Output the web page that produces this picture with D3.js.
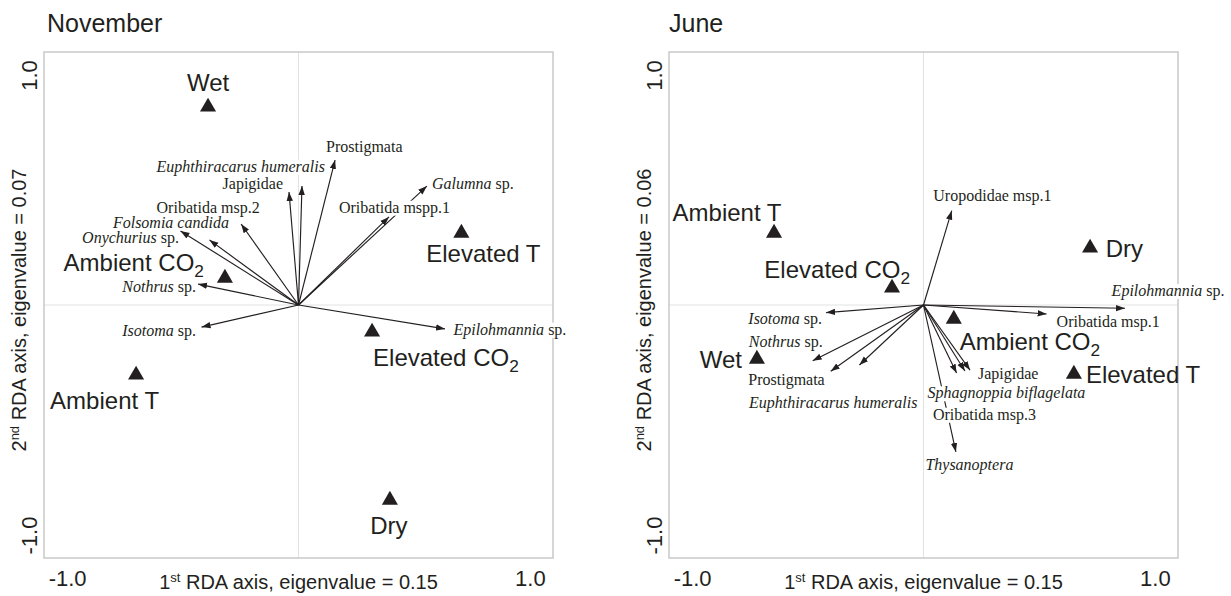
<!DOCTYPE html>
<html>
<head>
<meta charset="utf-8">
<script src="https://cdn.jsdelivr.net/npm/d3@7"></script>
<style>
  body { margin: 0; background: #fff; }
  svg { display: block; }
</style>
</head>
<body>
<svg id="svg1" width="1231" height="596"></svg>
<script>
// November : species arrows (*..* = italic) and treatment centroids (_2 = subscript)
var novSpecies = ["Prostigmata", "*Euphthiracarus humeralis*", "Japigidae", "Oribatida msp.2",
                  "*Folsomia candida*", "*Onychurius* sp.", "*Nothrus* sp.", "*Isotoma* sp.",
                  "*Epilohmannia* sp.", "Oribatida mspp.1", "*Galumna* sp."];
var novSpeciesX = [0.158, 0.015, -0.041, -0.248, -0.385, -0.510, -0.434, -0.419, 0.633, 0.391, 0.555];
var novSpeciesY = [0.630, 0.517, 0.491, 0.352, 0.283, 0.322, 0.091, -0.096, -0.104, 0.383, 0.517];
var novTreat = ["Wet", "Elevated T", "Ambient CO_2", "Elevated CO_2", "Ambient T", "Dry"];
var novTreatX = [-0.391, 0.704, -0.318, 0.318, -0.702, 0.395];
var novTreatY = [0.861, 0.313, 0.117, -0.117, -0.304, -0.848];

// June
var junSpecies = ["Uropodidae msp.1", "*Epilohmannia* sp.", "Oribatida msp.1", "*Isotoma* sp.",
                  "*Nothrus* sp.", "Prostigmata", "*Euphthiracarus humeralis*", "*Sphagnoppia biflagelata*",
                  "Japigidae", "Oribatida msp.3", "*Thysanoptera*"];
var junSpeciesX = [0.122, 0.871, 0.532, -0.421, -0.479, -0.401, -0.277, 0.143, 0.201, 0.179, 0.140];
var junSpeciesY = [0.410, -0.014, -0.039, -0.033, -0.242, -0.288, -0.261, -0.296, -0.283, -0.287, -0.639];
var junTreat = ["Ambient T", "Elevated CO_2", "Dry", "Ambient CO_2", "Wet", "Elevated T"];
var junTreatX = [-0.646, -0.136, 0.720, 0.131, -0.720, 0.650];
var junTreatY = [0.313, 0.074, 0.248, -0.061, -0.235, -0.300];

var axisTicks = [-1, 1];
var eigen1 = ["0.15", "0.15"];
var eigen2 = ["0.07", "0.06"];
var months = ["November", "June"];

// label placement (anchor, dx, dy in px from the point) - layout only
var novSpeciesLab = [["start",-9,-14],["end",23,-20],["end",-6,-9],["middle",-33,-17],["end",19.5,-18],
                     ["end",-1.5,6],["end",-2,2],["end",-5.6,3],["start",8.5,0],["start",-50,-10],["start",5,-3]];
var novTreatLab = [["middle",0,-25],["middle",22,20],["end",-21,-16],["start",1,25],["middle",-31.5,25],["middle",-1,25]];
var junSpeciesLab = [["start",-18.4,-15.7],["start",-13.4,-18],["start",10,7],["end",-4,5.5],["end",10,-19],
                     ["end",-6,8],["end",58,37],["start",-29,19.5],["start",8,3],["start",-32,43],["start",-30.5,12]];
var junTreatLab = [["middle",-47,-21],["end",18,-19],["start",15.7,0],["start",6,22.5],["end",-15,0],["start",12,0]];

var ink = "#231f20";
var sans = "'Liberation Sans', Arial, sans-serif";
var serif = "'Liberation Serif', 'Times New Roman', serif";

var svg = d3.select("#svg1");
var defs = svg.append("defs");
defs.append("marker").attr("id", "arr")
    .attr("markerUnits", "userSpaceOnUse")
    .attr("viewBox", "0 -4 10 8").attr("refX", 9).attr("refY", 0)
    .attr("markerWidth", 10).attr("markerHeight", 8).attr("orient", "auto")
    .append("path").attr("d", "M0,-3.2L9,0L0,3.2Z").attr("fill", ink);

function richText(g, str, px, py, anchor, fs, family) {
    var t = g.append("text").attr("x", px).attr("y", py + 0.36 * fs)
        .attr("text-anchor", anchor).attr("font-size", fs)
        .attr("font-family", family).attr("fill", ink);
    str.split(/(\*[^*]+\*|_\d)/).filter(Boolean).forEach(function(p) {
        if (p[0] === "*") t.append("tspan").attr("font-style", "italic").text(p.slice(1, -1));
        else if (p[0] === "_") t.append("tspan").attr("font-size", fs * 0.72).attr("dy", fs * 0.26).text(p.slice(1));
        else t.append("tspan").text(p);
    });
    return t;
}

function drawPanel(i, left, sp, spX, spY, spLab, tr, trX, trY, trLab) {
    var w = 509, top = 52, bottom = 558;
    var x = d3.scaleLinear().domain([-1.1, 1.1]).range([left, left + w]);
    var y = d3.scaleLinear().domain([-1.1, 1.1]).range([bottom, top]);
    var g = svg.append("g");

    // title
    g.append("text").attr("x", left + (i === 0 ? 3 : 0)).attr("y", 32)
        .attr("font-size", 25).attr("font-family", sans).attr("fill", ink).text(months[i]);

    // zero lines and frame
    g.append("line").attr("x1", x(0)).attr("x2", x(0)).attr("y1", top).attr("y2", bottom)
        .attr("stroke", "#e2e2e2").attr("stroke-width", 1);
    g.append("line").attr("x1", left).attr("x2", left + w).attr("y1", y(0)).attr("y2", y(0))
        .attr("stroke", "#e2e2e2").attr("stroke-width", 1);
    g.append("rect").attr("x", left).attr("y", top).attr("width", w).attr("height", bottom - top)
        .attr("fill", "none").attr("stroke", "#c9c9c9").attr("stroke-width", 1.5);

    // axes (labels only)
    var fmt = function(d) { return d.toFixed(1); };
    var gx = g.append("g").attr("transform", "translate(0," + bottom + ")")
        .call(d3.axisBottom(x).tickValues(axisTicks).tickSize(0).tickPadding(12).tickFormat(fmt));
    gx.select(".domain").remove();
    gx.selectAll("text").attr("font-size", 22).attr("font-family", sans).attr("fill", ink);

    var gy = g.append("g").attr("transform", "translate(" + left + ",0)")
        .call(d3.axisLeft(y).tickValues(axisTicks).tickSize(0).tickFormat(fmt));
    gy.select(".domain").remove();
    gy.selectAll("text").attr("x", 0).attr("dy", 0).attr("text-anchor", "middle")
        .attr("transform", "translate(-7.5,0) rotate(-90)")
        .attr("font-size", 22).attr("font-family", sans).attr("fill", ink);

    // axis titles
    var xt = g.append("text").attr("x", x(0)).attr("y", 589).attr("text-anchor", "middle")
        .attr("font-size", 20).attr("font-family", sans).attr("fill", ink);
    xt.append("tspan").text("1");
    xt.append("tspan").attr("font-size", 13).attr("dy", -7).text("st");
    xt.append("tspan").attr("dy", 7).text(" RDA axis, eigenvalue = " + eigen1[i]);

    var yt = g.append("text").attr("text-anchor", "middle")
        .attr("transform", "translate(" + (left - 18.5) + ",310) rotate(-90)")
        .attr("font-size", 20).attr("font-family", sans).attr("fill", ink);
    yt.append("tspan").text("2");
    yt.append("tspan").attr("font-size", 13).attr("dy", -7).text("nd");
    yt.append("tspan").attr("dy", 7).text(" RDA axis, eigenvalue = " + eigen2[i]);

    // species arrows
    var idx = d3.range(sp.length);
    g.append("g").selectAll("line").data(idx).join("line")
        .attr("x1", x(0)).attr("y1", y(0))
        .attr("x2", function(k) { return x(spX[k]); })
        .attr("y2", function(k) { return y(spY[k]); })
        .attr("stroke", ink).attr("stroke-width", 1.15)
        .attr("marker-end", "url(#arr)");

    // species labels on white
    var gl = g.append("g");
    idx.forEach(function(k) {
        var L = spLab[k];
        var t = richText(gl, sp[k], x(spX[k]) + L[1], y(spY[k]) + L[2], L[0], 16, serif);
        var b = t.node().getBBox();
        gl.insert("rect", function() { return t.node(); })
            .attr("x", b.x).attr("y", b.y + 2).attr("width", b.width).attr("height", b.height - 3)
            .attr("fill", "#fff");
    });

    // treatment centroids
    var tIdx = d3.range(tr.length);
    g.append("g").selectAll("path").data(tIdx).join("path")
        .attr("d", d3.symbol().type(d3.symbolTriangle).size(112))
        .attr("transform", function(k) { return "translate(" + x(trX[k]) + "," + y(trY[k]) + ")"; })
        .attr("fill", ink);
    tIdx.forEach(function(k) {
        var L = trLab[k];
        richText(g, tr[k], x(trX[k]) + L[1], y(trY[k]) + L[2], L[0], 24, sans);
    });
}

drawPanel(0, 44, novSpecies, novSpeciesX, novSpeciesY, novSpeciesLab, novTreat, novTreatX, novTreatY, novTreatLab);
drawPanel(1, 669, junSpecies, junSpeciesX, junSpeciesY, junSpeciesLab, junTreat, junTreatX, junTreatY, junTreatLab);
</script>
</body>
</html>
